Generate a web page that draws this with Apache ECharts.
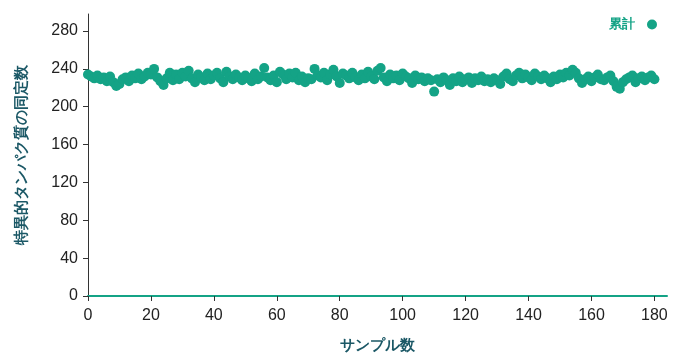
<!DOCTYPE html>
<html>
<head>
<meta charset="utf-8">
<script src="https://cdn.jsdelivr.net/npm/echarts@6/dist/echarts.min.js"></script>
<style>
  html, body { margin: 0; padding: 0; background: #fff; }
  #chart { width: 684px; height: 356px; }
</style>
</head>
<body>
<div id="chart"></div>
<script>
// values, one per sample (0..180)
const seriesName = '累計';
const counts = [
  234, 232, 230, 233, 229, 231, 227, 232, 226, 222, 224,
  229, 231, 227, 233, 230, 235, 229, 232, 236, 234,
  240, 231, 227, 223, 230, 236, 228, 234, 229, 236,
  232, 238, 230, 226, 234, 231, 228, 235, 229, 233,
  236, 230, 226, 237, 232, 229, 234, 231, 228, 233,
  230, 227, 235, 229, 232, 241, 231, 228, 233, 226,
  237, 234, 229, 235, 231, 236, 228, 232, 226, 230,
  229, 240, 233, 231, 236, 228, 234, 239, 232, 225,
  235, 233, 230, 236, 231, 228, 234, 230, 237, 232,
  229, 238, 241, 231, 227, 234, 230, 233, 228, 235,
  232, 230, 225, 233, 229, 231, 227, 230, 228, 216,
  229, 226, 231, 228, 223, 230, 227, 232, 226, 229,
  231, 225, 230, 228, 232, 227, 229, 226, 230, 228,
  224, 232, 235, 229, 227, 233, 236, 230, 234, 231,
  228, 235, 232, 229, 233, 230, 226, 232, 229, 234,
  231, 236, 233, 239, 236, 230, 225, 229, 232, 227,
  231, 234, 229, 228, 231, 233, 227, 221, 219, 226,
  229, 231, 233, 226, 230, 232, 228, 231, 233, 229
];
const xName = 'サンプル数';
const yName = '特異的タンパク質の同定数';

const teal = '#14a386';
const titleColor = '#1b5866';
const font = 'Liberation Sans, Arial, sans-serif';

const chart = echarts.init(document.getElementById('chart'));

chart.setOption({
  animation: false,
  grid: { left: 88, right: 17, top: 14, bottom: 60, outerBoundsMode: 'none', containLabel: false },
  legend: {
    right: 22,
    top: 13,
    align: 'right',
    itemWidth: 10,
    itemHeight: 10,
    textStyle: {
      color: teal, fontWeight: 'bold', fontSize: 13, fontFamily: font,
      padding: [0, 7, 0, 0]
    },
    data: [{ name: seriesName, icon: 'circle' }]
  },
  xAxis: {
    type: 'value',
    min: 0,
    max: 184,
    interval: 20,
    name: xName,
    nameLocation: 'middle',
    nameGap: 42,
    nameTextStyle: { color: titleColor, fontWeight: 'bold', fontSize: 15, fontFamily: font },
    axisLine: { lineStyle: { color: teal, width: 2 } },
    axisTick: { length: 5, lineStyle: { color: '#333' } },
    axisLabel: { color: '#222', fontSize: 16, fontFamily: font, margin: 12 },
    splitLine: { show: false }
  },
  yAxis: {
    type: 'value',
    min: 0,
    max: 298,
    interval: 40,
    name: yName,
    nameLocation: 'middle',
    nameGap: 59,
    nameTextStyle: { color: titleColor, fontWeight: 'bold', fontSize: 15, fontFamily: font },
    axisLine: { show: true, lineStyle: { color: '#333', width: 1 } },
    axisTick: { show: true, length: 5, lineStyle: { color: '#333' } },
    axisLabel: { color: '#222', fontSize: 16, fontFamily: font, margin: 10, showMaxLabel: false },
    splitLine: { show: false }
  },
  series: [
    {
      name: seriesName,
      type: 'scatter',
      symbol: 'circle',
      symbolSize: 10,
      itemStyle: { color: teal, opacity: 1 },
      data: counts.map((v, i) => [i, v])
    }
  ]
});
</script>
</body>
</html>
